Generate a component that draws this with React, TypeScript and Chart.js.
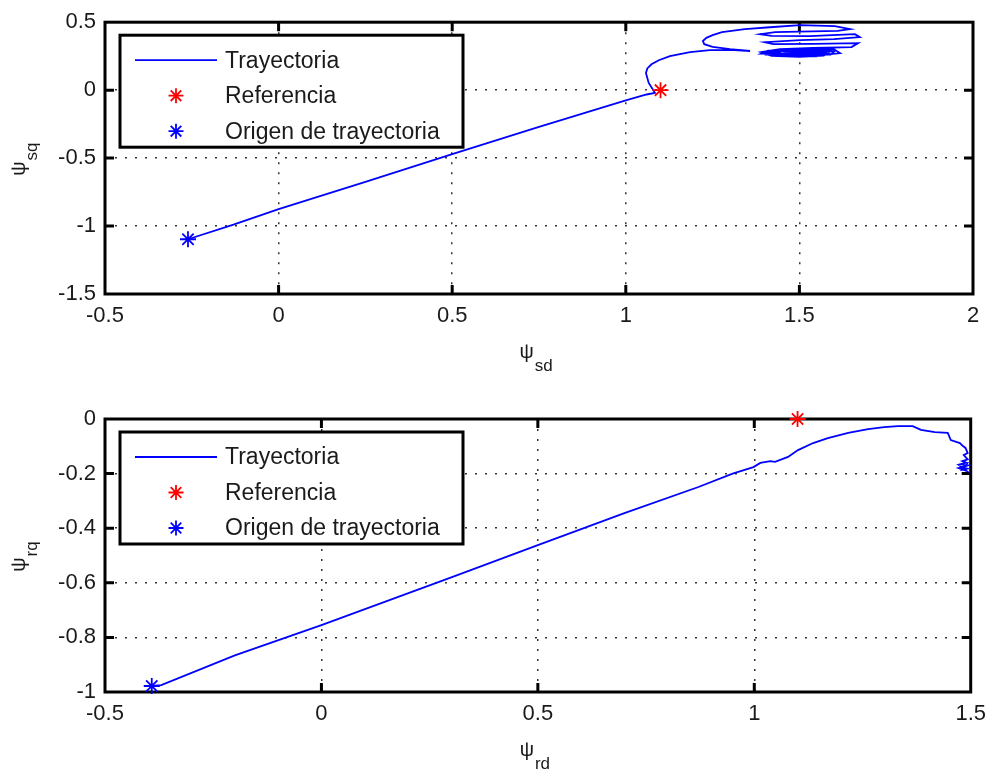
import React, { useEffect, useRef } from "react";
import { Chart, registerables } from "chart.js";

Chart.register(...registerables);

// ---------- data ----------
const legendLabels = ["Trayectoria", "Referencia", "Origen de trayectoria"];

// top subplot: stator flux
const topXTicks = [-0.5, 0, 0.5, 1, 1.5, 2];
const topYTicks = [-1.5, -1, -0.5, 0, 0.5];
const topRefPoint = [1.1, 0];
const topOrigin = [-0.261, -1.097];
const topTrajX = [
  -0.261, -0.13, 0, 0.25, 0.5, 0.75, 1.0, 1.06, 1.084, 1.066, 1.058, 1.062, 1.074, 1.095, 1.127,
  1.185, 1.242, 1.3, 1.358, 1.3, 1.25, 1.226, 1.222, 1.232, 1.25, 1.277, 1.343, 1.415, 1.502,
  1.602, 1.646, 1.61, 1.5, 1.43, 1.387, 1.42, 1.53, 1.66, 1.674, 1.6, 1.502, 1.401, 1.425, 1.54,
  1.669, 1.65, 1.54, 1.444, 1.39, 1.41, 1.473, 1.56, 1.617, 1.6, 1.5, 1.43, 1.4, 1.42, 1.5, 1.57,
  1.59, 1.56, 1.47, 1.415, 1.43, 1.52, 1.58, 1.56, 1.46, 1.43, 1.47, 1.55, 1.545, 1.47, 1.455,
  1.52, 1.5, 1.48, 1.4, 1.58, 1.57, 1.41, 1.39, 1.59, 1.6, 1.44, 1.4, 1.55, 1.57, 1.45, 1.43,
  1.54, 1.52, 1.47,
];
const topTrajY = [
  -1.097, -0.99, -0.875, -0.675, -0.47, -0.27, -0.075, -0.032, -0.02, 0.053, 0.126, 0.16, 0.19,
  0.22, 0.251, 0.28, 0.295, 0.296, 0.288, 0.302, 0.318, 0.338, 0.361, 0.385, 0.405, 0.427, 0.449,
  0.463, 0.478, 0.471, 0.449, 0.436, 0.43, 0.427, 0.412, 0.4, 0.398, 0.412, 0.39, 0.375, 0.368,
  0.353, 0.339, 0.34, 0.346, 0.317, 0.31, 0.302, 0.28, 0.262, 0.255, 0.258, 0.273, 0.3, 0.305,
  0.288, 0.27, 0.252, 0.245, 0.255, 0.285, 0.295, 0.298, 0.275, 0.258, 0.25, 0.265, 0.29, 0.292,
  0.272, 0.26, 0.262, 0.285, 0.29, 0.27, 0.268, 0.28, 0.275, 0.262, 0.27, 0.296, 0.29, 0.268,
  0.262, 0.285, 0.3, 0.28, 0.248, 0.278, 0.286, 0.266, 0.27, 0.283, 0.276,
];

// bottom subplot: rotor flux
const botXTicks = [-0.5, 0, 0.5, 1, 1.5];
const botYTicks = [-1, -0.8, -0.6, -0.4, -0.2, 0];
const botRefPoint = [1.1, 0];
const botOrigin = [-0.392, -0.978];
const botTrajX = [
  -0.392, -0.37, -0.2, 0, 0.3, 0.5, 0.7, 0.871, 0.95, 0.998, 1.014, 1.037, 1.048, 1.078, 1.101,
  1.136, 1.17, 1.217, 1.263, 1.3, 1.332, 1.366, 1.385, 1.417, 1.447, 1.454, 1.475, 1.482, 1.488,
  1.493, 1.484, 1.493, 1.481, 1.49, 1.476, 1.494, 1.472, 1.49, 1.478, 1.492, 1.48, 1.487, 1.482,
];
const botTrajY = [
  -0.978, -0.975, -0.866, -0.755, -0.58, -0.462, -0.345, -0.249, -0.2, -0.176, -0.161, -0.154,
  -0.157, -0.139, -0.114, -0.088, -0.07, -0.051, -0.037, -0.03, -0.026, -0.026, -0.04, -0.048,
  -0.051, -0.077, -0.088, -0.099, -0.106, -0.125, -0.132, -0.148, -0.154, -0.16, -0.166, -0.17,
  -0.18, -0.19, -0.175, -0.182, -0.186, -0.172, -0.178,
];

const FONT = "'Liberation Sans', Arial, Helvetica, sans-serif";
const TEXT = "#1a1a1a";

type Spec = {
  h: number;
  padTop: number;
  bottom: number;
  xTicks: number[];
  yTicks: number[];
  trajX: number[];
  trajY: number[];
  ref: number[];
  origin: number[];
  xSub: string;
  ySub: string;
};

function drawStar(ctx: CanvasRenderingContext2D, x: number, y: number, r: number, color: string) {
  ctx.save();
  ctx.strokeStyle = color;
  ctx.lineWidth = 1.8;
  ctx.beginPath();
  ctx.moveTo(x - r, y);
  ctx.lineTo(x + r, y);
  ctx.moveTo(x, y - r);
  ctx.lineTo(x, y + r);
  const d = r * Math.SQRT1_2;
  ctx.moveTo(x - d, y - d);
  ctx.lineTo(x + d, y + d);
  ctx.moveTo(x - d, y + d);
  ctx.lineTo(x + d, y - d);
  ctx.stroke();
  ctx.restore();
}

function makeChart(canvas: HTMLCanvasElement, s: Spec) {
  const frame = {
    id: "matlabFrame",
    beforeDatasetsDraw(chart: any) {
      const { ctx, chartArea: a, scales } = chart;
      ctx.save();
      ctx.strokeStyle = "#000";
      ctx.lineWidth = 3;
      ctx.strokeRect(a.left, a.top, a.right - a.left, a.bottom - a.top);
      ctx.beginPath();
      for (const v of s.xTicks) {
        const px = scales.x.getPixelForValue(v);
        if (px <= a.left + 1 || px >= a.right - 1) continue;
        ctx.moveTo(px, a.bottom);
        ctx.lineTo(px, a.bottom - 9);
        ctx.moveTo(px, a.top);
        ctx.lineTo(px, a.top + 9);
      }
      for (const v of s.yTicks) {
        const py = scales.y.getPixelForValue(v);
        if (py <= a.top + 1 || py >= a.bottom - 1) continue;
        ctx.moveTo(a.left, py);
        ctx.lineTo(a.left + 9, py);
        ctx.moveTo(a.right, py);
        ctx.lineTo(a.right - 9, py);
      }
      ctx.stroke();
      ctx.restore();
    },
    afterDraw(chart: any) {
      const { ctx, chartArea: a } = chart;
      // legend
      const bx = a.left + 15;
      const by = a.top + 13;
      const bw = 343;
      const bh = 112;
      ctx.save();
      ctx.fillStyle = "#fff";
      ctx.fillRect(bx, by, bw, bh);
      ctx.strokeStyle = "#000";
      ctx.lineWidth = 3;
      ctx.strokeRect(bx, by, bw, bh);
      const rows = [a.top + 38, a.top + 73.5, a.top + 109];
      ctx.strokeStyle = "#0000ff";
      ctx.lineWidth = 1.8;
      ctx.beginPath();
      ctx.moveTo(a.left + 30, rows[0]);
      ctx.lineTo(a.left + 112, rows[0]);
      ctx.stroke();
      drawStar(ctx, a.left + 71, rows[1], 7.5, "#ff0000");
      drawStar(ctx, a.left + 71, rows[2], 7.5, "#0000ff");
      ctx.fillStyle = TEXT;
      ctx.font = `23px ${FONT}`;
      ctx.textBaseline = "middle";
      ctx.textAlign = "left";
      legendLabels.forEach((t, i) => ctx.fillText(t, a.left + 120, rows[i] + 1));

      // x title
      ctx.textBaseline = "alphabetic";
      ctx.font = `20px ${FONT}`;
      const psiW = ctx.measureText("ψ").width;
      ctx.font = `17px ${FONT}`;
      const xsW = ctx.measureText(s.xSub).width;
      const cx = (a.left + a.right) / 2 - 3;
      const x0 = cx - (psiW + 1 + xsW) / 2;
      const yb = a.bottom + 64;
      ctx.font = `20px ${FONT}`;
      ctx.fillText("ψ", x0, yb);
      ctx.font = `17px ${FONT}`;
      ctx.fillText(s.xSub, x0 + psiW + 1, yb + 13);

      // y title (rotated)
      ctx.font = `17px ${FONT}`;
      const ysW = ctx.measureText(s.ySub).width;
      const tot = psiW + 1 + ysW;
      const cy = (a.top + a.bottom) / 2 + 1;
      ctx.translate(25, cy);
      ctx.rotate(-Math.PI / 2);
      ctx.font = `20px ${FONT}`;
      ctx.fillText("ψ", -tot / 2, 0);
      ctx.font = `17px ${FONT}`;
      ctx.fillText(s.ySub, -tot / 2 + psiW + 1, 12);
      ctx.restore();
    },
  };

  const tickFont = { family: FONT, size: 22 };
  return new Chart(canvas, {
    type: "scatter",
    data: {
      datasets: [
        {
          label: legendLabels[1],
          data: [{ x: s.ref[0], y: s.ref[1] }],
          pointStyle: "star",
          pointRadius: 8,
          pointBorderColor: "#ff0000",
          pointBackgroundColor: "#ff0000",
          pointBorderWidth: 1.8,
          showLine: false,
          clip: false,
          order: 1,
        },
        {
          label: legendLabels[2],
          data: [{ x: s.origin[0], y: s.origin[1] }],
          pointStyle: "star",
          pointRadius: 8,
          pointBorderColor: "#0000ff",
          pointBackgroundColor: "#0000ff",
          pointBorderWidth: 1.8,
          showLine: false,
          clip: false,
          order: 2,
        },
        {
          label: legendLabels[0],
          data: s.trajX.map((x, i) => ({ x, y: s.trajY[i] })),
          showLine: true,
          borderColor: "#0000ff",
          borderWidth: 1.8,
          pointRadius: 0,
          tension: 0,
          clip: false,
          order: 3,
        },
      ],
    },
    options: {
      responsive: false,
      animation: false,
      events: [],
      layout: { padding: { top: s.padTop, right: 22, left: 0, bottom: 0 } },
      plugins: { legend: { display: false }, tooltip: { enabled: false } },
      scales: {
        x: {
          type: "linear",
          min: s.xTicks[0],
          max: s.xTicks[s.xTicks.length - 1],
          afterBuildTicks: (sc: any) => {
            sc.ticks = s.xTicks.map((v) => ({ value: v }));
          },
          afterFit: (sc: any) => {
            sc.height = s.h - s.bottom;
          },
          ticks: {
            font: tickFont,
            color: TEXT,
            padding: 9,
            maxRotation: 0,
            autoSkip: false,
            callback: (v: any) => String(v),
          },
          grid: { color: "#333", lineWidth: 1.5, drawTicks: false },
          border: { display: false, dash: [2, 8] },
        },
        y: {
          type: "linear",
          min: s.yTicks[0],
          max: s.yTicks[s.yTicks.length - 1],
          afterBuildTicks: (sc: any) => {
            sc.ticks = s.yTicks.map((v) => ({ value: v }));
          },
          afterFit: (sc: any) => {
            sc.width = 105;
          },
          ticks: {
            font: tickFont,
            color: TEXT,
            padding: 9,
            autoSkip: false,
            callback: (v: any) => String(v),
          },
          grid: { color: "#333", lineWidth: 1.5, drawTicks: false },
          border: { display: false, dash: [2, 8] },
        },
      },
    },
    plugins: [frame],
  } as any);
}

export default function App() {
  const topCanvas = useRef<HTMLCanvasElement>(null);
  const botCanvas = useRef<HTMLCanvasElement>(null);

  useEffect(() => {
    const c1 = makeChart(topCanvas.current!, {
      h: 385,
      padTop: 21,
      bottom: 294,
      xTicks: topXTicks,
      yTicks: topYTicks,
      trajX: topTrajX,
      trajY: topTrajY,
      ref: topRefPoint,
      origin: topOrigin,
      xSub: "sd",
      ySub: "sq",
    });
    const c2 = makeChart(botCanvas.current!, {
      h: 386,
      padTop: 34,
      bottom: 307,
      xTicks: botXTicks,
      yTicks: botYTicks,
      trajX: botTrajX,
      trajY: botTrajY,
      ref: botRefPoint,
      origin: botOrigin,
      xSub: "rd",
      ySub: "rq",
    });
    return () => {
      c1.destroy();
      c2.destroy();
    };
  }, []);

  return (
    <div style={{ position: "absolute", left: 0, top: 0, width: 995, height: 771, background: "#fff" }}>
      <canvas ref={topCanvas} width={995} height={385} style={{ position: "absolute", left: 0, top: 0, display: "block" }} />
      <canvas ref={botCanvas} width={995} height={386} style={{ position: "absolute", left: 0, top: 385, display: "block" }} />
    </div>
  );
}
